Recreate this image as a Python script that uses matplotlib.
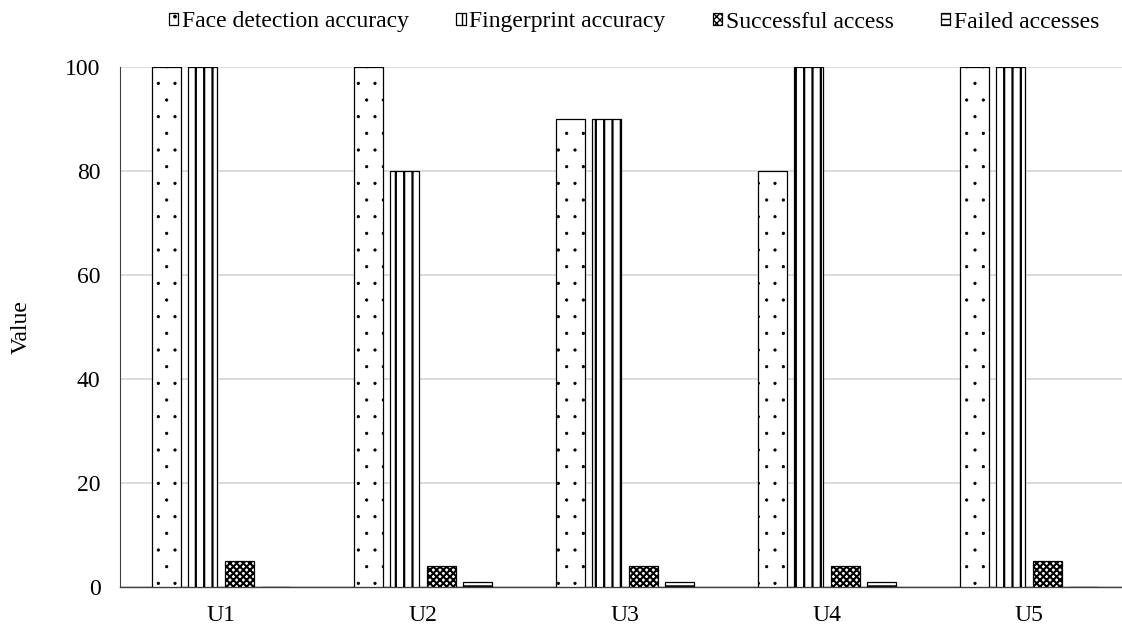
import matplotlib
matplotlib.use("Agg")
import matplotlib.pyplot as plt
import matplotlib.hatch as mhatch
import numpy as np

plt.rcParams['font.family'] = ['Liberation Serif', 'DejaVu Serif']
mhatch.SmallFilledCircles.size = 0.07

categories = ["U1", "U2", "U3", "U4", "U5"]
face = [100, 100, 90, 80, 100]
finger = [100, 80, 90, 100, 100]
success = [5, 4, 4, 4, 5]
failed = [0, 1, 1, 1, 0]

series = [
    ("Face detection accuracy", face, '.', 0.6),
    ("Fingerprint accuracy", finger, '||', 1.6),
    ("Successful access", success, 'xxxxx', 1.5),
    ("Failed accesses", failed, '---', 1.2),
]

fig = plt.figure(figsize=(11.22, 6.26), dpi=100)
ax = fig.add_axes([120/1122, 1-587/626, 1002/1122, (587-67)/626])

x = np.arange(len(categories))
w = 0.1436
step = 0.181
handles = []
for i, (name, vals, h, hlw) in enumerate(series):
    with plt.rc_context({'hatch.linewidth': hlw}):
        b = ax.bar(x + (i - 1.5) * step, vals, width=w, facecolor='white',
                   edgecolor='black', hatch=h, linewidth=0.9, label=name, zorder=3)
        for p in b.patches:
            if hasattr(p, 'set_hatch_linewidth'):
                p.set_hatch_linewidth(hlw)
    handles.append(b)

ax.set_xlim(-0.5, (1122-221)/202)
ax.set_ylim(0, 100)
ax.set_yticks(range(0, 101, 20))
ax.set_xticks(x)
ax.set_xticklabels(categories)
ax.tick_params(axis='both', length=0, labelsize=17)
ax.tick_params(axis='x', pad=13)
ax.tick_params(axis='y', pad=14)
ax.yaxis.grid(True, color='#d9d9d9', linewidth=1.3, zorder=0)
ax.set_axisbelow(True)
for s in ['top', 'right']:
    ax.spines[s].set_visible(False)
ax.spines['bottom'].set_color('#404040')
ax.spines['left'].set_color('#404040')
ax.spines['bottom'].set_linewidth(1.0)
ax.spines['left'].set_linewidth(0.8)
ax.set_ylabel("Value", fontsize=17, labelpad=24)

fig.legend(handles=handles, loc='center', bbox_to_anchor=(634/1122, 1-22/626),
           ncol=4, frameon=False, fontsize=17, handlelength=0.4, handleheight=0.4,
           handletextpad=0.15, columnspacing=2.0)

fig.savefig("out.png", dpi=100)
